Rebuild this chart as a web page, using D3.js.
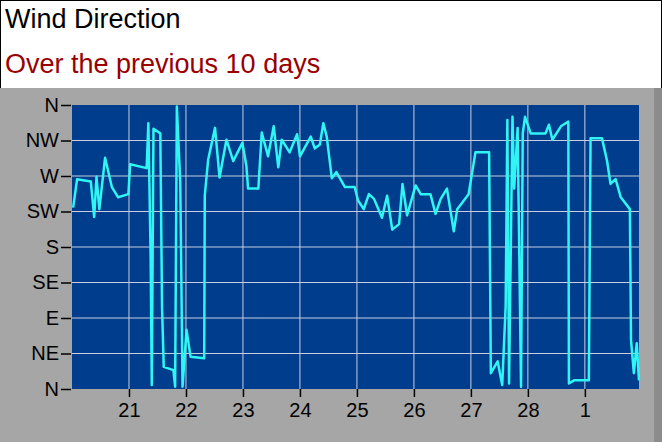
<!DOCTYPE html>
<html><head><meta charset="utf-8">
<script src="https://cdn.jsdelivr.net/npm/d3@7"></script>
<style>body{margin:0;background:#fff}svg{display:block;font-family:Arial,"Liberation Sans",sans-serif}</style>
</head><body>
<svg id="chart" width="662" height="442"></svg>
<script>
// day of month (Feb 20 .. Mar 1 => 29), direction in degrees
var days = [20.02,20.09,20.33,20.39,20.43,20.48,20.58,20.70,20.81,20.99,21.02,21.31,21.34,21.38,21.40,21.43,21.55,21.58,21.61,21.78,21.81,21.84,21.90,21.94,22.01,22.08,22.32,22.33,22.39,22.51,22.59,22.71,22.83,22.99,23.06,23.09,23.27,23.33,23.44,23.54,23.62,23.68,23.82,23.95,24.00,24.19,24.26,24.35,24.41,24.47,24.56,24.64,24.79,24.96,25.02,
  25.12,25.21,25.30,25.44,25.53,25.62,25.74,25.80,25.88,26.03,26.12,26.29,26.38,26.47,26.58,26.70,26.76,26.96,27.08,27.32,27.35,27.47,27.55,27.61,27.64,27.67,27.73,27.76,27.82,27.88,27.91,27.95,28.05,28.31,28.37,28.43,28.58,28.71,28.72,28.81,29.07,29.10,29.30,29.39,29.45,29.54,29.63,29.79,29.81,29.86,29.91,29.95];
var degrees = [230,266,263,218,269,228,293,256,243,247,285,280,337,168,5,330,324,104,28,24,3,358,262,3,75,41,39,245,291,331,268,316,289,312,283,254,254,325,295,333,281,316,300,323,295,320,305,310,337,320,267,275,256,256,239,
  228,247,241,217,245,202,209,260,220,258,247,247,222,241,254,200,228,247,300,300,20,35,5,105,341,7,345,254,331,3,324,345,324,324,335,316,333,339,7,11,11,318,318,289,260,266,243,228,62,20,58,11];
var yTickVals = [0,45,90,135,180,225,270,315,360];
var yTickLabels = ["N","NE","E","SE","S","SW","W","NW","N"];
var xTickVals = [21,22,23,24,25,26,27,28,29];
var xTickLabels = ["21","22","23","24","25","26","27","28","1"];

var svg = d3.select("#chart");
var plotLeft = 72, plotRight = 639, plotTop = 105, plotBottom = 389;

svg.append("rect").attr("x",0.5).attr("y",0.5).attr("width",661).attr("height",88).attr("fill","#fff").attr("stroke","#000");
svg.append("rect").attr("x",0).attr("y",88).attr("width",662).attr("height",354).attr("fill","#a6a6a6");
svg.append("rect").attr("x",654).attr("y",88).attr("width",8).attr("height",354).attr("fill","#8c8c8c");
svg.append("text").attr("x",5).attr("y",28).attr("font-size",27).text("Wind Direction");
svg.append("text").attr("x",5).attr("y",73).attr("font-size",27).attr("fill","#990000").text("Over the previous 10 days");

var x = d3.scaleLinear().domain([20, 29.95]).range([plotLeft, plotRight]);
var y = d3.scaleLinear().domain([0, 360]).range([plotBottom, plotTop]);

svg.append("rect").attr("x",plotLeft).attr("y",plotTop).attr("width",plotRight-plotLeft).attr("height",plotBottom-plotTop).attr("fill","#003d8c");

svg.append("g").selectAll("line").data(yTickVals.slice(1,-1)).join("line")
  .attr("x1",plotLeft).attr("x2",plotRight).attr("y1",d=>y(d)).attr("y2",d=>y(d)).attr("stroke","#c8cfe0").attr("stroke-width",1);
svg.append("g").selectAll("line").data(xTickVals).join("line")
  .attr("y1",plotTop).attr("y2",plotBottom).attr("x1",d=>x(d)).attr("x2",d=>x(d)).attr("stroke","#c8cfe0").attr("stroke-width",1);

var yAxis = d3.axisLeft(y).tickValues(yTickVals).tickFormat((d,i)=>yTickLabels[i]).tickSize(10).tickPadding(2);
var gy = svg.append("g").attr("transform","translate("+(plotLeft-1)+",0)").call(yAxis);
var xAxis = d3.axisBottom(x).tickValues(xTickVals).tickFormat((d,i)=>xTickLabels[i]).tickSize(8).tickPadding(6);
var gx = svg.append("g").attr("transform","translate(0,"+plotBottom+")").call(xAxis);
[gy,gx].forEach(function(g){
  g.select(".domain").remove();
  g.selectAll("line").attr("stroke","#000").attr("stroke-width",1.5);
  g.selectAll("text").attr("font-size",20).attr("fill","#000").style("font-family","Arial, 'Liberation Sans', sans-serif");
});

var line = d3.line().x((d,i)=>x(days[i])).y(d=>y(d));
svg.append("path").datum(degrees).attr("d",line).attr("fill","none").attr("stroke","#2ff5f5").attr("stroke-width",2.5).attr("stroke-linejoin","round");
</script>
</body></html>
